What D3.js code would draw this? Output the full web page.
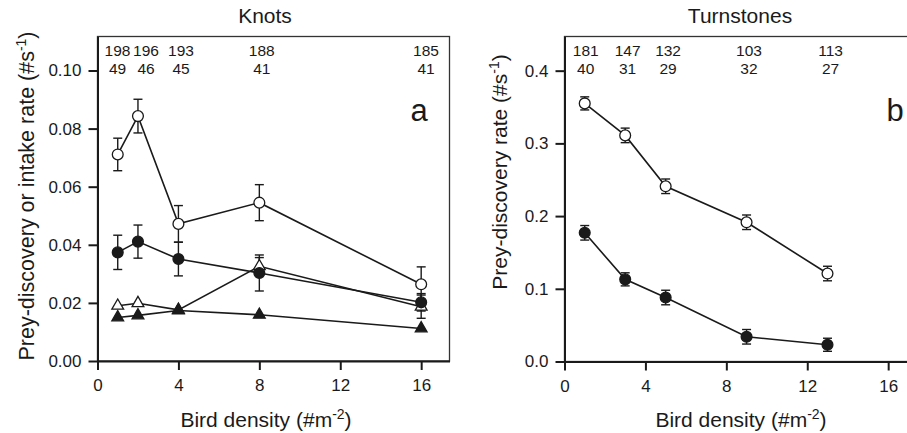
<!DOCTYPE html>
<html><head><meta charset="utf-8">
<script src="https://cdn.jsdelivr.net/npm/d3@7"></script>
<style>body{margin:0;background:#fff}svg{display:block;font-family:"Liberation Sans",Arial,sans-serif}</style>
</head><body><svg id="c" width="907" height="433"></svg>
<script>
// Panel a: Knots
const knotsX = [1, 2, 4, 8, 16];
const knotsOpenCircle = [0.0711, 0.0843, 0.0472, 0.0545, 0.0264];
const knotsOpenCircleErr = [0.0056, 0.0058, 0.0063, 0.0062, 0.0060];
const knotsFilledCircle = [0.0374, 0.0411, 0.0351, 0.0303, 0.0202];
const knotsFilledCircleErr = [0.0059, 0.0057, 0.0058, 0.0062, 0.0030];
const knotsOpenTri = [0.0190, 0.0199, 0.0176, 0.0326, 0.0187];
const knotsOpenTriErr = [0, 0, 0, 0.0030, 0.0040];
const knotsFilledTri = [0.0150, 0.0157, 0.0174, 0.0159, 0.0112];
const knotsFilledTriErr = [0, 0, 0, 0, 0];
const knotsN1 = ["198", "196", "193", "188", "185"];
const knotsN2 = ["49", "46", "45", "41", "41"];
const knotsCountAt = [0.99, 2.4, 4.13, 8.12, 16.24];
const knotsYTicks = [0, 0.02, 0.04, 0.06, 0.08, 0.10];
// Panel b: Turnstones
const turnX = [1, 3, 5, 9, 13];
const turnOpenCircle = [0.355, 0.311, 0.241, 0.1915, 0.121];
const turnOpenCircleErr = [0.009, 0.010, 0.010, 0.010, 0.010];
const turnFilledCircle = [0.177, 0.113, 0.088, 0.034, 0.023];
const turnFilledCircleErr = [0.010, 0.009, 0.010, 0.010, 0.009];
const turnN1 = ["181", "147", "132", "103", "113"];
const turnN2 = ["40", "31", "29", "32", "27"];
const turnCountAt = [1.05, 3.12, 5.12, 9.12, 13.15];
const turnYTicks = [0, 0.1, 0.2, 0.3, 0.4];
const xTicks = [0, 4, 8, 12, 16];

const svg = d3.select("#c");
const ink = "#1a1a1a";
const FONT = "Liberation Sans, Arial, sans-serif";

function panel(o) {
  const g = svg.append("g");
  const x = d3.scaleLinear().domain([0, 17.4]).range([o.left, o.left + 352]);
  const y = d3.scaleLinear().domain([0, o.ymax]).range([o.bottom, 36.5]);
  // frame
  g.append("rect").attr("x", o.left).attr("y", 36.5).attr("width", 352).attr("height", o.bottom - 36.5)
    .attr("fill", "none").attr("stroke", "#333").attr("stroke-width", 1.3);
  const ax = g.append("g").attr("transform", `translate(0,${o.bottom})`)
    .call(d3.axisBottom(x).tickValues(xTicks).tickSize(9).tickSizeOuter(0).tickPadding(9));
  const ay = g.append("g").attr("transform", `translate(${o.left},0)`)
    .call(d3.axisLeft(y).tickValues(o.yTicks).tickFormat(d3.format(o.fmt)).tickSize(9).tickSizeOuter(0).tickPadding(7));
  [ax, ay].forEach(a => {
    a.selectAll("text").attr("font-size", 17).attr("fill", ink).attr("font-family", FONT);
    a.selectAll("line").attr("stroke", ink).attr("stroke-width", 2);
    a.select(".domain").attr("stroke", ink).attr("stroke-width", 2);
  });
  // title
  g.append("text").attr("x", o.titleX).attr("y", 23).attr("text-anchor", "middle")
    .attr("font-size", 21).attr("fill", ink).text(o.title);
  // x label
  const xl = g.append("text").attr("x", o.titleX + 1).attr("y", 427).attr("text-anchor", "middle")
    .attr("font-size", 21).attr("fill", ink);
  xl.append("tspan").text("Bird density (#m");
  xl.append("tspan").attr("dy", -8).attr("font-size", 14).text("-2");
  xl.append("tspan").attr("dy", 8).text(")");
  // y label
  const yl = g.append("text").attr("transform", `translate(${o.ylabX},${o.ylabY}) rotate(-90)`)
    .attr("text-anchor", "middle").attr("font-size", o.ylabSize).attr("fill", ink);
  yl.append("tspan").text(o.ylab);
  yl.append("tspan").attr("dy", -8).attr("font-size", 14).text("-1");
  yl.append("tspan").attr("dy", 8).text(")");
  // counts
  o.countAt.forEach((v, i) => {
    g.append("text").attr("x", x(v)).attr("y", 56).attr("text-anchor", "middle").attr("font-size", 15.5).attr("fill", ink).text(o.n1[i]);
    g.append("text").attr("x", x(v)).attr("y", 73.5).attr("text-anchor", "middle").attr("font-size", 15.5).attr("fill", ink).text(o.n2[i]);
  });
  // panel letter
  g.append("text").attr("x", o.letterX).attr("y", 121).attr("text-anchor", "middle").attr("font-size", 31).attr("fill", ink).text(o.letter);

  const line = d3.line().x(d => x(d[0])).y(d => y(d[1]));
  o.series.forEach(s => {
    const pts = o.xs.map((v, i) => [v, s.vals[i], s.err[i]]);
    g.append("path").attr("d", line(pts)).attr("fill", "none").attr("stroke", ink).attr("stroke-width", 1.6);
  });
  o.series.forEach(s => {
    const pts = o.xs.map((v, i) => [v, s.vals[i], s.err[i]]);
    pts.filter(p => p[2] > 0).forEach(p => {
      const cx = x(p[0]), y1 = y(p[1] + p[2]), y0 = y(p[1] - p[2]);
      g.append("line").attr("x1", cx).attr("x2", cx).attr("y1", y1).attr("y2", y0).attr("stroke", ink).attr("stroke-width", 1.4);
      [y1, y0].forEach(yy => g.append("line").attr("x1", cx - 4.5).attr("x2", cx + 4.5).attr("y1", yy).attr("y2", yy).attr("stroke", ink).attr("stroke-width", 1.4));
    });
  });
  o.series.forEach(s => {
    const pts = o.xs.map((v, i) => [v, s.vals[i]]);
    const sym = s.shape === "circle" ? d3.symbol().type(d3.symbolCircle).size(92) : d3.symbol().type(d3.symbolTriangle).size(60);
    g.selectAll(null).data(pts).enter().append("path")
      .attr("d", sym).attr("transform", d => `translate(${x(d[0])},${y(d[1])})`)
      .attr("fill", s.filled ? ink : "#fff").attr("stroke", ink).attr("stroke-width", 1.3);
  });
}

panel({
  left: 97.5, bottom: 361, ymax: 0.1117, yTicks: knotsYTicks, fmt: ".2f", title: "Knots", titleX: 265,
  ylabX: 34, ylabY: 196, ylabSize: 21.5, ylab: "Prey-discovery or intake rate (#s",
  xs: knotsX, countAt: knotsCountAt, n1: knotsN1, n2: knotsN2,
  letter: "a", letterX: 419,
  series: [
    {vals: knotsOpenTri, err: knotsOpenTriErr, shape: "tri", filled: false},
    {vals: knotsFilledTri, err: knotsFilledTriErr, shape: "tri", filled: true},
    {vals: knotsFilledCircle, err: knotsFilledCircleErr, shape: "circle", filled: true},
    {vals: knotsOpenCircle, err: knotsOpenCircleErr, shape: "circle", filled: false}
  ]
});
panel({
  left: 564.5, bottom: 361.5, ymax: 0.447, yTicks: turnYTicks, fmt: ".1f", title: "Turnstones", titleX: 740,
  ylabX: 507, ylabY: 172, ylabSize: 21, ylab: "Prey-discovery rate (#s",
  xs: turnX, countAt: turnCountAt, n1: turnN1, n2: turnN2,
  letter: "b", letterX: 895,
  series: [
    {vals: turnFilledCircle, err: turnFilledCircleErr, shape: "circle", filled: true},
    {vals: turnOpenCircle, err: turnOpenCircleErr, shape: "circle", filled: false}
  ]
});
</script></body></html>
